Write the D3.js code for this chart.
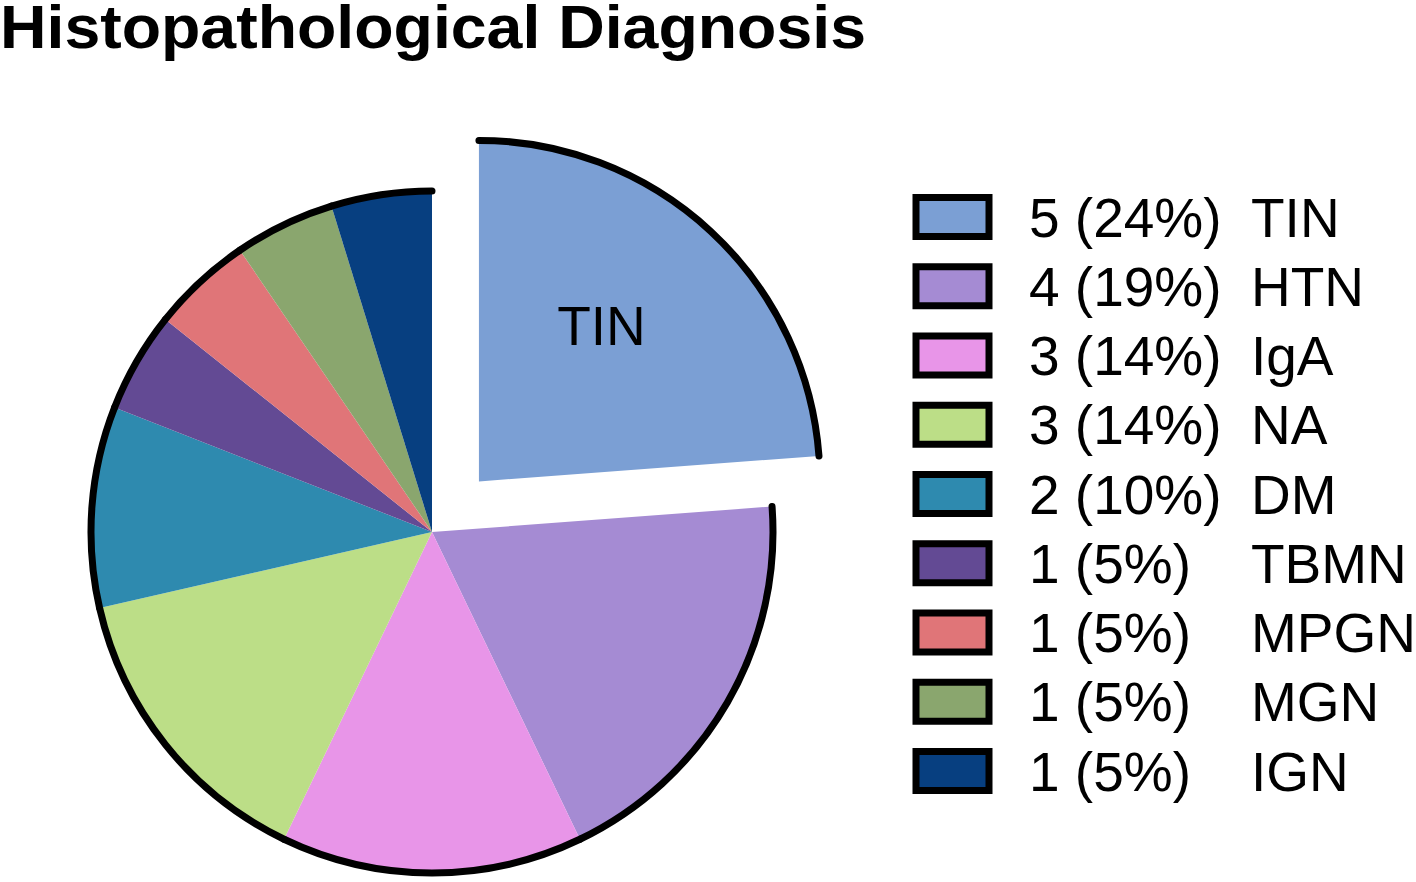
<!DOCTYPE html>
<html>
<head>
<meta charset="utf-8">
<script src="https://cdn.jsdelivr.net/npm/d3@7"></script>
<style>
  body { margin: 0; background: #fff; }
  svg { display: block; font-family: "Liberation Sans", Arial, sans-serif; }
</style>
</head>
<body>
<svg id="chart" width="1416" height="882"></svg>
<script>
// data
const categories = ["TIN", "HTN", "IgA", "NA", "DM", "TBMN", "MPGN", "MGN", "IGN"];
const counts = [5, 4, 3, 3, 2, 1, 1, 1, 1];
const colors = ["#7b9fd4", "#a58bd3", "#e895e8", "#bcde87", "#2e8aaf",
                "#634a94", "#e07578", "#8aa66e", "#073f80"];
const explodedCategory = "TIN";

const svg = d3.select("#chart");
const total = d3.sum(counts);
const data = categories.map((c, i) => ({cat: c, n: counts[i]}));

// title
svg.append("text")
    .attr("x", 0)
    .attr("y", 48)
    .attr("font-size", 62)
    .attr("font-weight", "bold")
    .attr("textLength", 866)
    .attr("lengthAdjust", "spacingAndGlyphs")
    .text("Histopathological Diagnosis");

// pie
const cx = 432, cy = 532, r = 341, explode = 69;

const pie = d3.pie()
    .value(d => d.n)
    .sort(null);

const arc = d3.arc()
    .innerRadius(0)
    .outerRadius(r);

const color = d3.scaleOrdinal()
    .domain(categories)
    .range(colors);

const g = svg.append("g")
    .attr("transform", `translate(${cx},${cy})`);

const slices = g.selectAll("g.slice")
    .data(pie(data))
    .join("g")
    .attr("class", "slice")
    .attr("transform", d => {
        if (d.data.cat !== explodedCategory) return null;
        const mid = (d.startAngle + d.endAngle) / 2;
        return `translate(${Math.sin(mid) * explode},${-Math.cos(mid) * explode})`;
    });

slices.append("path")
    .attr("d", arc)
    .attr("fill", d => color(d.data.cat));

// outer rim only
slices.append("path")
    .attr("d", d => {
        const p = d3.path();
        p.arc(0, 0, r, d.startAngle - Math.PI / 2, d.endAngle - Math.PI / 2);
        return p.toString();
    })
    .attr("fill", "none")
    .attr("stroke", "#000")
    .attr("stroke-width", 7)
    .attr("stroke-linecap", "round");

const labelArc = d3.arc().innerRadius(0).outerRadius(r * 1.16);
slices.filter(d => d.data.cat === explodedCategory)
    .append("text")
    .attr("transform", d => {
        const c = labelArc.centroid(d);
        return `translate(${c[0] - 12},${c[1] + 9})`;
    })
    .attr("text-anchor", "middle")
    .attr("font-size", 55)
    .text(d => d.data.cat);

// legend
const rowY = d3.scalePoint()
    .domain(categories)
    .range([217, 771]);

const legend = svg.append("g");
const rows = legend.selectAll("g")
    .data(data)
    .join("g")
    .attr("transform", d => `translate(0,${rowY(d.cat)})`);

rows.append("rect")
    .attr("x", 916)
    .attr("y", -19.5)
    .attr("width", 73)
    .attr("height", 39)
    .attr("fill", d => color(d.cat))
    .attr("stroke", "#000")
    .attr("stroke-width", 7);

rows.append("text")
    .attr("x", 1029)
    .attr("y", 19.5)
    .attr("font-size", 55)
    .text(d => `${d.n} (${Math.round(d.n / total * 100)}%)`);

rows.append("text")
    .attr("x", 1251)
    .attr("y", 19.5)
    .attr("font-size", 55)
    .text(d => d.cat);
</script>
</body>
</html>
